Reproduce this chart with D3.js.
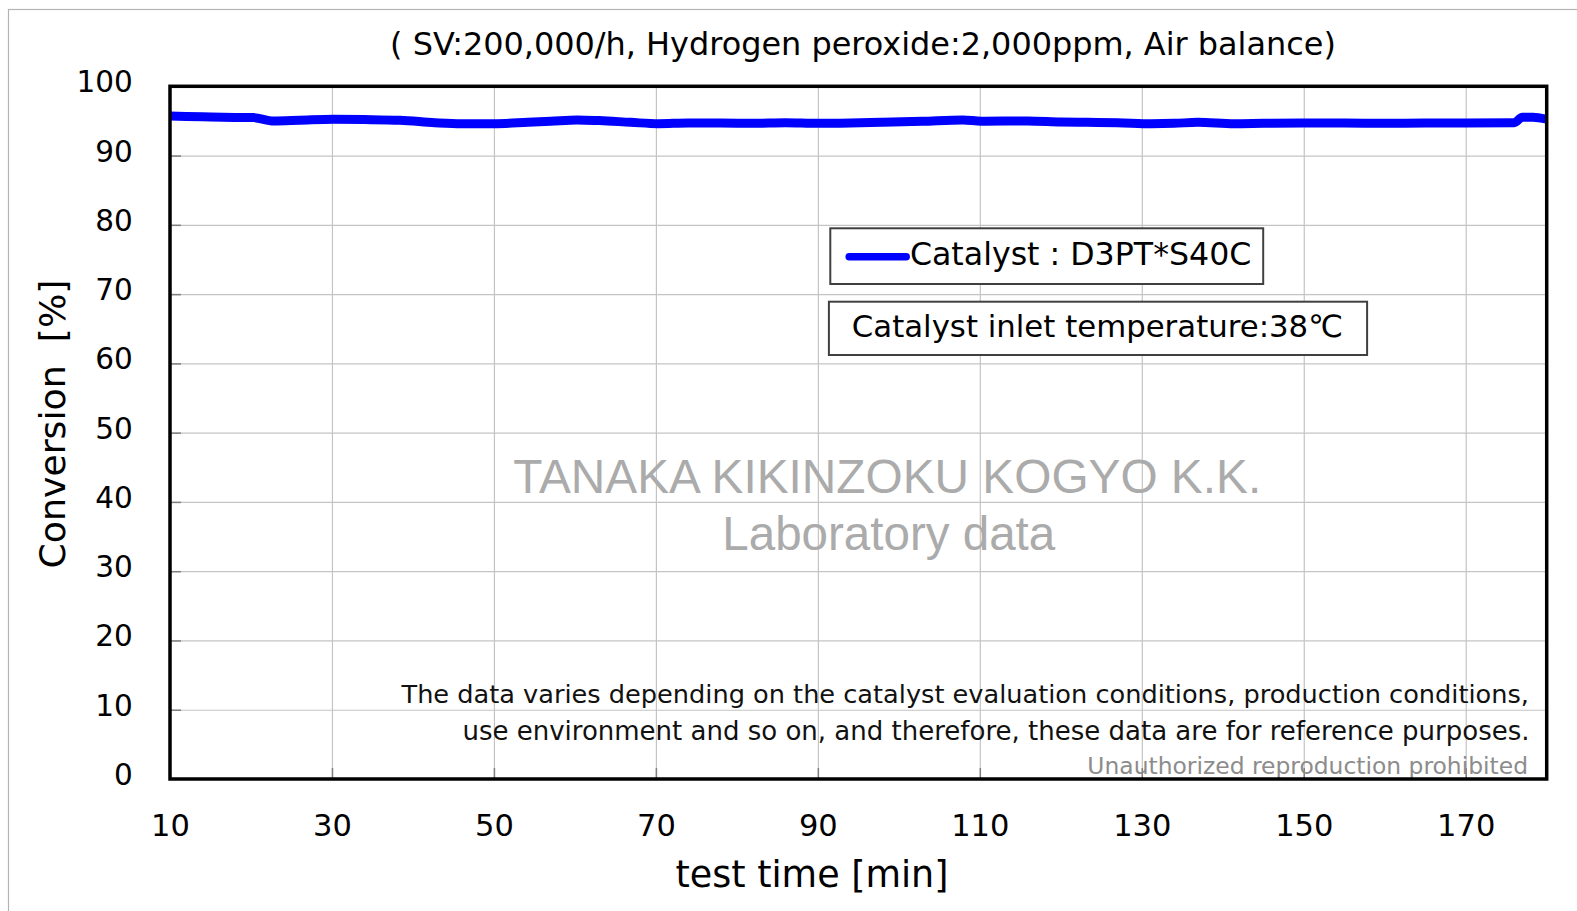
<!DOCTYPE html>
<html>
<head>
<meta charset="utf-8">
<script src="https://cdn.jsdelivr.net/npm/d3@7"></script>
<style>
  html, body { margin: 0; padding: 0; background: #fff; }
  svg { display: block; }
</style>
</head>
<body>
<svg id="chart" width="1577" height="911"></svg>
<script>
// ---- data ----
const times = [10, 14, 18, 20.3, 22.8, 26, 30.2, 34, 38.4, 42.7, 46, 50, 54.2, 57, 60.3, 63, 66.9, 70.3, 74, 78, 82, 86, 90, 94, 98, 102.9, 107.9, 110.2, 115.9, 120, 123.3, 127, 131.2, 134, 136.9, 141.4, 145, 150, 155, 160, 165, 170, 176, 177, 178.3, 180];
const conversion = [95.7, 95.6, 95.5, 95.48, 95.0, 95.1, 95.24, 95.2, 95.1, 94.75, 94.6, 94.6, 94.8, 94.95, 95.15, 95.05, 94.8, 94.6, 94.7, 94.7, 94.65, 94.75, 94.65, 94.7, 94.8, 94.95, 95.15, 94.95, 95.0, 94.85, 94.8, 94.75, 94.6, 94.65, 94.8, 94.6, 94.65, 94.7, 94.7, 94.65, 94.7, 94.7, 94.75, 95.55, 95.55, 95.25];
const xTicks = [10, 30, 50, 70, 90, 110, 130, 150, 170];
const yTicks = [0, 10, 20, 30, 40, 50, 60, 70, 80, 90, 100];
const seriesName = "Catalyst : D3PT*S40C";
const conditionLabel = "Catalyst inlet temperature:38\u2103";
const titleText = "( SV:200,000/h, Hydrogen peroxide:2,000ppm, Air balance)";
const xTitle = "test time [min]";
const yTitle = "Conversion\u00a0\u00a0[%]";
const watermark1 = "TANAKA KIKINZOKU KOGYO K.K.";
const watermark2 = "Laboratory data";
const note1 = "The data varies depending on the catalyst evaluation conditions, production conditions,";
const note2 = "use environment and so on, and therefore, these data are for reference purposes.";
const note3 = "Unauthorized reproduction prohibited";

// ---- layout ----
const L = 170, R = 1546.7, T = 86.3, B = 779;
const FONT = "'DejaVu Sans', Verdana, sans-serif";
const svg = d3.select("#chart");

const x = d3.scaleLinear().domain([10, 180]).range([L, R]);
const y = d3.scaleLinear().domain([0, 100]).range([B, T]);

function fit(sel, w) {
  const n = sel.node();
  const fs = parseFloat(sel.attr("font-size"));
  const len = n.getComputedTextLength();
  sel.attr("font-size", (fs * w / len).toFixed(2));
  return sel;
}

// outer border
svg.append("rect").attr("x", 8.5).attr("y", 9.5).attr("width", 1700).attr("height", 1000)
  .attr("fill", "none").attr("stroke", "#b4b4b4").attr("stroke-width", 1.2);

// grid
svg.append("g").attr("transform", `translate(0,${B})`)
  .call(d3.axisBottom(x).tickValues(xTicks.slice(1)).tickSize(-(B - T)).tickFormat(""))
  .call(g => g.select(".domain").remove())
  .call(g => g.selectAll("line").attr("stroke", "#c4c4c4").attr("stroke-width", 1.2));
svg.append("g").attr("transform", `translate(${L},0)`)
  .call(d3.axisLeft(y).tickValues(yTicks.slice(1, -1)).tickSize(-(R - L)).tickFormat(""))
  .call(g => g.select(".domain").remove())
  .call(g => g.selectAll("line").attr("stroke", "#c4c4c4").attr("stroke-width", 1.2));

// inner tick marks
svg.append("g").attr("transform", `translate(0,${B})`)
  .call(d3.axisBottom(x).tickValues(xTicks.slice(1)).tickSize(-11).tickFormat(""))
  .call(g => g.select(".domain").remove())
  .call(g => g.selectAll("line").attr("stroke", "#808080").attr("stroke-width", 1.5));
svg.append("g").attr("transform", `translate(${L},0)`)
  .call(d3.axisLeft(y).tickValues(yTicks.slice(1, -1)).tickSize(-11).tickFormat(""))
  .call(g => g.select(".domain").remove())
  .call(g => g.selectAll("line").attr("stroke", "#808080").attr("stroke-width", 1.5));

// watermark
const wm1 = svg.append("text").attr("x", 513.3).attr("y", 492.7)
  .attr("font-family", "'Liberation Sans', Arial, sans-serif").attr("font-size", 49)
  .attr("fill", "#ababab").text(watermark1);
fit(wm1, 748);
const wm2 = svg.append("text").attr("x", 722.3).attr("y", 550)
  .attr("font-family", "'Liberation Sans', Arial, sans-serif").attr("font-size", 49)
  .attr("fill", "#ababab").text(watermark2);
fit(wm2, 333);

// notes
const n1 = svg.append("text").attr("x", 1529).attr("y", 703.3).attr("text-anchor", "end")
  .attr("font-family", FONT).attr("font-size", 25).attr("fill", "#111").text(note1);
fit(n1, 1128);
const n2 = svg.append("text").attr("x", 1529.5).attr("y", 740).attr("text-anchor", "end")
  .attr("font-family", FONT).attr("font-size", 25).attr("fill", "#111").text(note2);
fit(n2, 1067);
const n3 = svg.append("text").attr("x", 1528).attr("y", 773.5).attr("text-anchor", "end")
  .attr("font-family", FONT).attr("font-size", 23).attr("fill", "#8c8c8c").text(note3);
fit(n3, 441);

// data line
svg.append("clipPath").attr("id", "clip").append("rect")
  .attr("x", L).attr("y", T).attr("width", R - L).attr("height", B - T);
const pts = times.map((t, i) => [t, conversion[i]]);
svg.append("path").datum(pts)
  .attr("clip-path", "url(#clip)")
  .attr("fill", "none").attr("stroke", "#0000ff").attr("stroke-width", 9)
  .attr("stroke-linejoin", "round")
  .attr("d", d3.line().x(d => x(d[0])).y(d => y(d[1])).curve(d3.curveMonotoneX));

// frame
svg.append("rect").attr("x", L).attr("y", T).attr("width", R - L).attr("height", B - T)
  .attr("fill", "none").attr("stroke", "#000").attr("stroke-width", 3.5);

// tick labels
svg.append("g").attr("transform", `translate(${L},0)`)
  .call(d3.axisLeft(y).tickValues(yTicks).tickSize(0).tickPadding(37.3))
  .call(g => g.select(".domain").remove())
  .call(g => g.selectAll("text").attr("font-family", FONT).attr("font-size", 29.5)
    .attr("fill", "#000").attr("dy", null).attr("dominant-baseline", "central")
    .attr("transform", "translate(0,-4.5)"));
svg.append("g").attr("transform", `translate(0,${B})`)
  .call(d3.axisBottom(x).tickValues(xTicks).tickSize(0))
  .call(g => g.select(".domain").remove())
  .call(g => g.selectAll("text").attr("font-family", FONT).attr("font-size", 30.5)
    .attr("fill", "#000").attr("dy", null).attr("y", 57));

// title
const tt = svg.append("text").attr("x", 863).attr("y", 55).attr("text-anchor", "middle")
  .attr("font-family", FONT).attr("font-size", 30).attr("fill", "#000").text(titleText);
fit(tt, 946);

// axis titles
const xt = svg.append("text").attr("x", 812).attr("y", 887).attr("text-anchor", "middle")
  .attr("font-family", FONT).attr("font-size", 36).attr("fill", "#000").text(xTitle);
fit(xt, 273);
const yt = svg.append("text").attr("transform", "translate(64.5,424) rotate(-90)")
  .attr("text-anchor", "middle")
  .attr("font-family", FONT).attr("font-size", 38).attr("fill", "#000").text(yTitle);
fit(yt, 289);

// legend box
svg.append("rect").attr("x", 830.3).attr("y", 228.3).attr("width", 1263.2 - 830.3).attr("height", 284 - 228.3)
  .attr("fill", "#fff").attr("stroke", "#404040").attr("stroke-width", 2);
svg.append("line").attr("x1", 849.2).attr("x2", 906.2).attr("y1", 256.7).attr("y2", 256.7)
  .attr("stroke", "#0000ff").attr("stroke-width", 7.5).attr("stroke-linecap", "round");
const lt = svg.append("text").attr("x", 909.9).attr("y", 265).attr("font-family", FONT)
  .attr("font-size", 32).attr("fill", "#000").text(seriesName);
fit(lt, 341.5);

svg.append("rect").attr("x", 828.9).attr("y", 301.7).attr("width", 1367.1 - 828.9).attr("height", 355 - 301.7)
  .attr("fill", "#fff").attr("stroke", "#404040").attr("stroke-width", 2);
const ct = svg.append("text").attr("x", 851.8).attr("y", 336.7).attr("font-family", FONT)
  .attr("font-size", 32).attr("fill", "#000").text(conditionLabel);
fit(ct, 491);
</script>
</body>
</html>
